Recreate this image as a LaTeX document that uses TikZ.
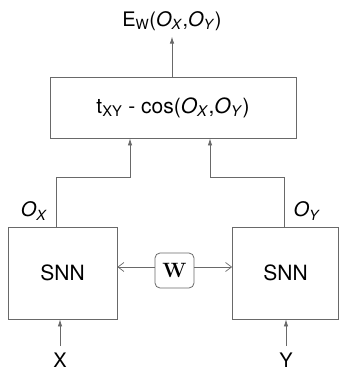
\documentclass[tikz,border=0pt]{standalone}
\usepackage[no-math]{fontspec}
\setmainfont{TeX Gyre Heros}
\usetikzlibrary{arrows.meta, positioning}
\definecolor{linegray}{RGB}{105,105,105}
\newcommand{\Ov}[1]{\textit{O}\textsubscript{\textit{#1}}}

\begin{document}
\begin{tikzpicture}[x=1pt, y=-1pt,
	box/.style={draw=linegray, line width=0.8pt, inner sep=0pt, font=\fontsize{21}{24}\selectfont},
	lbl/.style={inner sep=0pt, font=\fontsize{20}{22}\selectfont},
	arr/.style={draw=linegray, line width=0.8pt, -{Latex[length=7pt,width=4.5pt]}},
	share/.style={draw=linegray, line width=0.8pt, -{Straight Barb[length=6pt,width=9pt,line width=0.7pt]}}]
\useasboundingbox (0,0) rectangle (339,373);

% Boxes
\node[box, minimum width=246pt, minimum height=61pt] (dist) at (173,107.5) {t\textsubscript{XY} - cos(\Ov{X},\Ov{Y})};
\node[box, minimum width=109pt, minimum height=92pt] (snnX) at (62.5,273) {SNN};
\node[box, minimum width=106pt, minimum height=92pt] (snnY) at (285.5,273) {SNN};
\node[box, rounded corners=5pt, minimum width=39pt, minimum height=35pt, font=\fontsize{20}{22}\selectfont] (wts) at (174.5,270.5) {$\mathbf{W}$};

% Labels
\node[lbl] (energy) at (172,21) {E\textsubscript{W}(\Ov{X},\Ov{Y})};
\node[lbl] (inX) at (60,360.5) {X};
\node[lbl] (inY) at (286,360.5) {Y};
\node[lbl] (outX) at (34,211) {\Ov{X}};
\node[lbl] (outY) at (307,211) {\Ov{Y}};

% Connectors
\coordinate (bendX) at (130,177);
\coordinate (bendY) at (210,177);
\draw[arr] ([xshift=-6.5pt]snnX.north) |- (bendX) -- (bendX |- dist.south);
\draw[arr] ([xshift=-1.5pt]snnY.north) |- (bendY) -- (bendY |- dist.south);
\draw[arr] (dist.north -| energy) -- ++(0,-40);
\draw[arr] (inX.north |- 0,346) -- (inX |- snnX.south);
\draw[arr] (inY.north |- 0,346) -- (inY |- snnY.south);
\draw[share] (wts.west |- 0,267) -- (snnX.east |- 0,267);
\draw[share] (wts.east |- 0,267) -- (snnY.west |- 0,267);
\end{tikzpicture}
\end{document}
